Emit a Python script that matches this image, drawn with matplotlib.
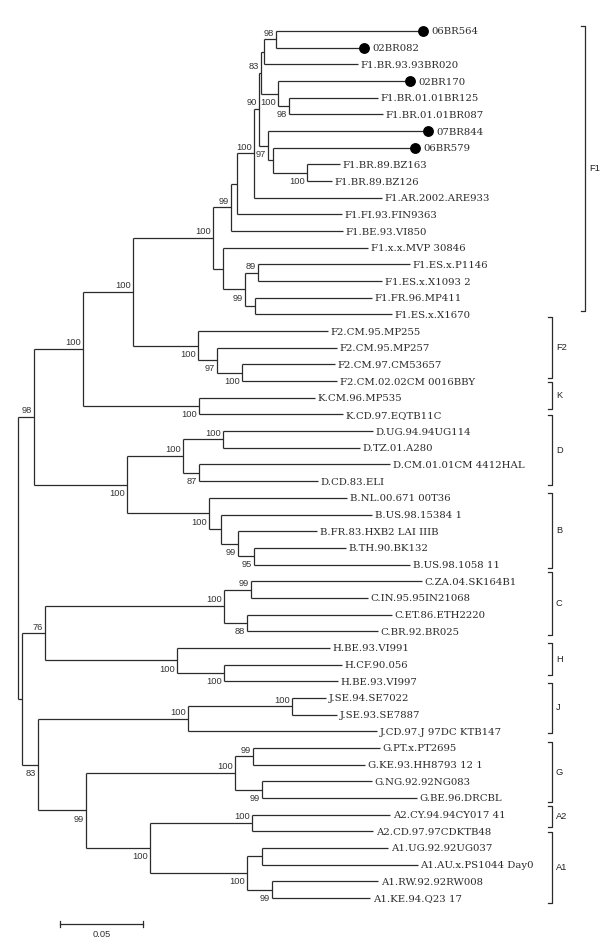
import matplotlib
matplotlib.use("Agg")
import matplotlib.pyplot as plt

# internal nodes of the tree: name, parent, branch length, bootstrap
node_names = ["root", "R98", "R22", "KK", "FF", "F1", "W", "X", "Y", "I", "E", "B", "A", "D", "C",
              "H", "G", "F", "V", "U", "T1", "T2", "F2", "F2b", "F2c", "K", "DB", "Dr", "D1", "D2",
              "Br", "B2", "B3", "B4", "CH", "Cr", "C1", "C2", "Hr", "H2", "JGA", "Jr", "J1", "GA",
              "Gr", "G1", "G2", "Ar", "A2n", "A1n", "A1a", "A1b"]
node_parent = [None, "root", "root", "R98", "KK", "FF", "F1", "W", "X", "Y", "I", "E", "B", "E", "D",
               "I", "H", "G", "F1", "V", "U", "U", "FF", "F2", "F2b", "KK", "R98", "DB", "Dr", "Dr",
               "DB", "Br", "B2", "B3", "R22", "CH", "Cr", "Cr", "CH", "Hr", "R22", "JGA", "Jr", "JGA",
               "GA", "Gr", "Gr", "GA", "Ar", "Ar", "A1n", "A1n"]
node_length = [0.0, 0.0096, 0.0024, 0.0295, 0.0301, 0.0482, 0.0108, 0.0036, 0.0102, 0.0030, 0.0012,
               0.0018, 0.0072, 0.0102, 0.0066, 0.0054, 0.0030, 0.0205, 0.0060, 0.0132, 0.0078, 0.0060,
               0.0391, 0.0114, 0.0151, 0.0699, 0.0560, 0.0337, 0.0241, 0.0096, 0.0494, 0.0072, 0.0102,
               0.0096, 0.0138, 0.1078, 0.0163, 0.0138, 0.0795, 0.0283, 0.0096, 0.0903, 0.0626, 0.0289,
               0.0897, 0.0108, 0.0163, 0.0385, 0.0614, 0.0584, 0.0090, 0.0151]
node_boot = [None, 98, None, 100, 100, 100, 99, None, 100, 90, 83, None, 98, 100, 98,
             97, None, 100, None, 99, 89, None, 100, 97, 100, 100, 100, 100, 100, 87,
             100, None, 99, 95, 76, 100, 99, 88, 100, 100, 83, 100, 100, 99,
             100, 99, 99, 100, 100, 100, None, 99]
# 'a' = value drawn above the branch, 'b' = below
boot_side = ["", "a", "", "a", "a", "a", "a", "", "a", "a", "a", "", "a", "b", "b",
             "b", "", "b", "", "b", "a", "", "b", "b", "b", "b", "b", "a", "a", "b",
             "b", "", "b", "b", "a", "a", "a", "b", "b", "b", "b", "a", "a", "b",
             "a", "a", "b", "b", "a", "b", "", "b"]

# leaves, top to bottom
leaf_names = ["06BR564", "02BR082", "F1.BR.93.93BR020", "02BR170", "F1.BR.01.01BR125",
              "F1.BR.01.01BR087", "07BR844", "06BR579", "F1.BR.89.BZ163", "F1.BR.89.BZ126",
              "F1.AR.2002.ARE933", "F1.FI.93.FIN9363", "F1.BE.93.VI850", "F1.x.x.MVP 30846",
              "F1.ES.x.P1146", "F1.ES.x.X1093 2", "F1.FR.96.MP411", "F1.ES.x.X1670",
              "F2.CM.95.MP255", "F2.CM.95.MP257", "F2.CM.97.CM53657", "F2.CM.02.02CM 0016BBY",
              "K.CM.96.MP535", "K.CD.97.EQTB11C", "D.UG.94.94UG114", "D.TZ.01.A280",
              "D.CM.01.01CM 4412HAL", "D.CD.83.ELI", "B.NL.00.671 00T36", "B.US.98.15384 1",
              "B.FR.83.HXB2 LAI IIIB", "B.TH.90.BK132", "B.US.98.1058 11", "C.ZA.04.SK164B1",
              "C.IN.95.95IN21068", "C.ET.86.ETH2220", "C.BR.92.BR025", "H.BE.93.VI991",
              "H.CF.90.056", "H.BE.93.VI997", "J.SE.94.SE7022", "J.SE.93.SE7887",
              "J.CD.97.J 97DC KTB147", "G.PT.x.PT2695", "G.KE.93.HH8793 12 1", "G.NG.92.92NG083",
              "G.BE.96.DRCBL", "A2.CY.94.94CY017 41", "A2.CD.97.97CDKTB48", "A1.UG.92.92UG037",
              "A1.AU.x.PS1044 Day0", "A1.RW.92.92RW008", "A1.KE.94.Q23 17"]
leaf_parent = ["A", "A", "B", "D", "C", "C", "H", "G", "F", "F", "Y", "X", "W", "V", "T1", "T1",
               "T2", "T2", "F2", "F2b", "F2c", "F2c", "K", "K", "D1", "D1", "D2", "D2", "Br", "B2",
               "B3", "B4", "B4", "C1", "C1", "C2", "C2", "Hr", "H2", "H2", "J1", "J1", "Jr", "G1",
               "G1", "G2", "G2", "A2n", "A2n", "A1a", "A1a", "A1b", "A1b"]
leaf_length = [0.0855, 0.0500, 0.0566, 0.0765, 0.0536, 0.0566, 0.0933, 0.0825, 0.0199, 0.0151,
               0.0771, 0.0632, 0.0674, 0.0873, 0.0915, 0.0746, 0.0704, 0.0825, 0.0783, 0.0722,
               0.0560, 0.0572, 0.0698, 0.0867, 0.0903, 0.0825, 0.1150, 0.0716, 0.0831, 0.0909,
               0.0476, 0.0554, 0.0939, 0.1029, 0.0704, 0.0873, 0.0789, 0.0921, 0.0710, 0.0686,
               0.0205, 0.0271, 0.1138, 0.0765, 0.0674, 0.0662, 0.0933, 0.0831, 0.0728, 0.0759,
               0.0939, 0.0638, 0.0590]
leaf_marked = ["06BR564", "02BR082", "02BR170", "07BR844", "06BR579"]

clade_names = ["F1", "F2", "K", "D", "B", "C", "H", "J", "G", "A2", "A1"]
clade_first = [0, 18, 22, 24, 28, 33, 37, 40, 43, 47, 49]
clade_last = [17, 21, 23, 27, 32, 36, 39, 42, 46, 48, 52]
bracket_top_pad = [-0.3, -0.85, -0.95, -0.95, -0.3, -0.55, -0.3, -0.9, -0.35, -0.5, -0.95]
bracket_bot_pad = [-0.2, -0.2, -0.3, 0.25, 0.2, 0.2, -0.35, 0.1, 0.25, -0.25, 0.3]

scale_len = 0.05

# ---------------------------------------------------------------
children = {n: [] for n in node_names}
parent = {}
length = {}
for n, p, l in zip(node_names, node_parent, node_length):
    parent[n] = p
    length[n] = l
    if p is not None:
        children[p].append(n)
for n, p, l in zip(leaf_names, leaf_parent, leaf_length):
    parent[n] = p
    length[n] = l
    children[p].append(n)

ypos = {n: i for i, n in enumerate(leaf_names)}
xpos = {}

def get_y(n):
    if n not in ypos:
        ys = [get_y(c) for c in children[n]]
        ypos[n] = (min(ys) + max(ys)) / 2
    return ypos[n]

def get_x(n):
    if n not in xpos:
        p = parent[n]
        xpos[n] = 0.0 if p is None else get_x(p) + length[n]
    return xpos[n]

for n in node_names + leaf_names:
    get_y(n)
    get_x(n)

PX = scale_len / 83.0          # data units per pixel (horizontal)
ROW = 16.673                   # pixels per leaf row

fig = plt.figure(figsize=(6, 9.51), dpi=100)
ax = fig.add_axes([0, 0, 1, 1])
ax.set_xlim(-18 * PX, 582 * PX)
ax.set_ylim((951 - 31) / ROW, -31 / ROW)
ax.axis("off")

lc = "#2b2b2b"
lw = 0.9

# branches
for n in node_names + leaf_names:
    p = parent[n]
    if p is not None:
        ax.plot([xpos[p], xpos[n]], [ypos[n], ypos[n]], color=lc, lw=lw, solid_capstyle="butt")
for n in node_names:
    ys = [ypos[c] for c in children[n]]
    ax.plot([xpos[n], xpos[n]], [min(ys), max(ys)], color=lc, lw=lw, solid_capstyle="butt")

# bootstrap values
for n, b, s in zip(node_names, node_boot, boot_side):
    if b is None:
        continue
    dy = 2.7 if s == "a" else -8.0
    ax.annotate(str(b), (xpos[n], ypos[n]), xytext=(-1.2, dy), textcoords="offset points",
                ha="right", va="baseline", fontsize=6.7, family="Liberation Sans", color="#333333")

# leaf labels
for n in leaf_names:
    x, y = xpos[n], ypos[n]
    if n in leaf_marked:
        ax.plot(x + 5 * PX, y, "o", ms=6.8, color="black", mec="black")
        tx = x + 14 * PX
    else:
        tx = x + 3 * PX
    ax.text(tx, y, n, ha="left", va="center_baseline", fontsize=7.3, family="DejaVu Serif",
            color="#2a2a2a")

# clade brackets
for i, name in enumerate(clade_names):
    bx = (585 - 18) * PX if name == "F1" else (552 - 18) * PX
    y0 = clade_first[i] + bracket_top_pad[i]
    y1 = clade_last[i] + bracket_bot_pad[i]
    ax.plot([bx - 4 * PX, bx, bx, bx - 4 * PX], [y0, y0, y1, y1], color=lc, lw=lw)
    ax.text(bx + 4 * PX, (y0 + y1) / 2, name, ha="left", va="center", fontsize=6.7,
            family="Liberation Sans", color="#222222")

# scale bar
sy = (924 - 31) / ROW
sx = (60 - 18) * PX
ax.plot([sx, sx + scale_len], [sy, sy], color=lc, lw=lw)
for xx in (sx, sx + scale_len):
    ax.plot([xx, xx], [sy - 0.2, sy + 0.2], color=lc, lw=lw)
ax.text(sx + scale_len / 2, sy + 0.35, "0.05", ha="center", va="top", fontsize=6.7,
        family="Liberation Sans", color="#333333")

fig.savefig("out.png", dpi=100)
